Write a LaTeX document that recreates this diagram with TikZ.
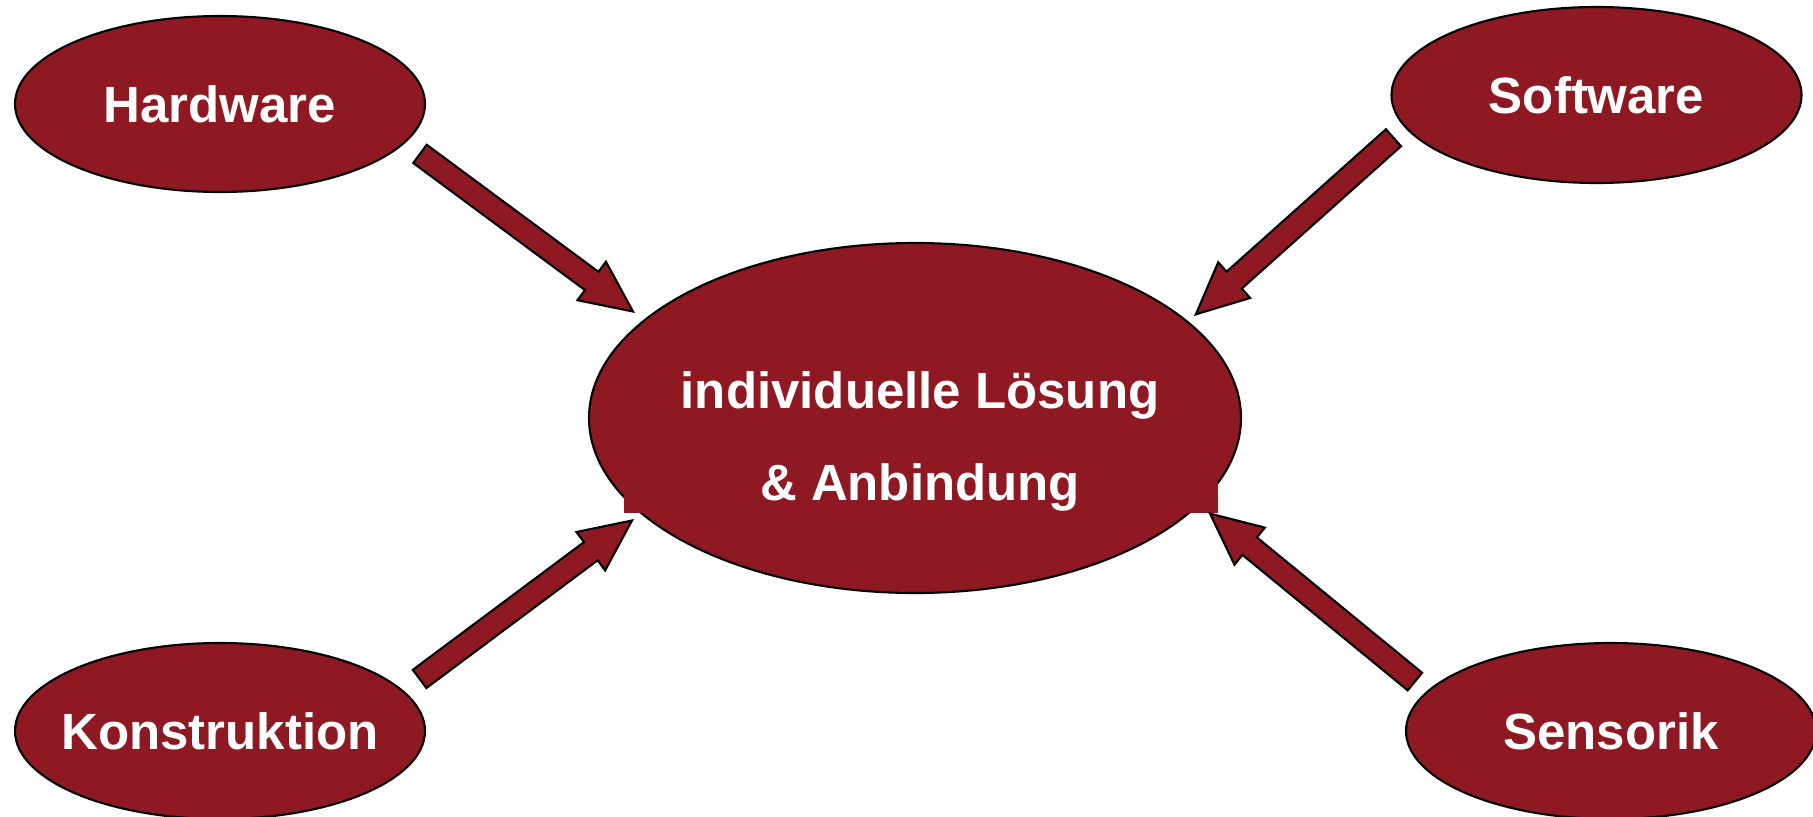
\documentclass[tikz,border=0pt]{standalone}
\usepackage{fontspec}
\setmainfont{Liberation Sans}
\usetikzlibrary{shapes.geometric,shapes.arrows}
\definecolor{darkred}{RGB}{142,25,35}
\tikzset{
    bubble/.style={ellipse, draw=black, line width=0.6pt, fill=darkred,
        inner sep=0pt, minimum width=4.1cm, minimum height=1.76cm},
    bubbletext/.style={text=white, font=\fontsize{14.5}{17}\selectfont\bfseries},
    blockarrow/.style={single arrow, draw=black, line width=0.6pt, fill=darkred,
        inner xsep=0pt, inner ysep=0.103cm, minimum height=2.65cm,
        single arrow head extend=0.126cm, single arrow tip angle=50,
        sloped, allow upside down, anchor=tip}
}
\begin{document}
\begin{tikzpicture}
    \useasboundingbox (0,0) rectangle (18.13,8.16);

    % Draw the ellipses
    \node[bubble, minimum width=6.52cm, minimum height=3.5cm] (loesung) at (9.15,3.98) {};
    \fill[darkred] (6.24,4.36) rectangle (12.18,3.03);
    \node[bubble, label={[bubbletext]center:Hardware}] (hardware) at (2.20,7.12) {};
    \node[bubble, label={[bubbletext]center:Software}] (software) at (15.965,7.21) {};
    \node[bubble, label={[bubbletext]center:Konstruktion}] (konstruktion) at (2.20,0.85) {};
    \node[bubble, label={[bubbletext]center:Sensorik}] (sensorik) at (16.11,0.85) {};

    \node[bubbletext, anchor=base] (zeile1) at (9.20,4.08) {individuelle Lösung};
    \node[bubbletext, anchor=base] (zeile2) at (9.20,3.16) {\& Anbindung};

    % Draw the arrows
    \coordinate (hwtail) at (4.215,6.61);
    \coordinate (hwtip) at (6.35,5.03);
    \coordinate (swtail) at (13.915,6.765);
    \coordinate (swtip) at (11.94,5.00);
    \coordinate (kotail) at (4.215,1.385);
    \coordinate (kotip) at (6.34,2.97);
    \coordinate (setail) at (14.13,1.36);
    \coordinate (setip) at (12.08,3.04);

    \path (hwtail) -- (hwtip) node[pos=1, blockarrow] (hwarrow) {};
    \path (swtail) -- (swtip) node[pos=1, blockarrow] (swarrow) {};
    \path (kotail) -- (kotip) node[pos=1, blockarrow] (koarrow) {};
    \path (setail) -- (setip) node[pos=1, blockarrow] (searrow) {};
\end{tikzpicture}
\end{document}
